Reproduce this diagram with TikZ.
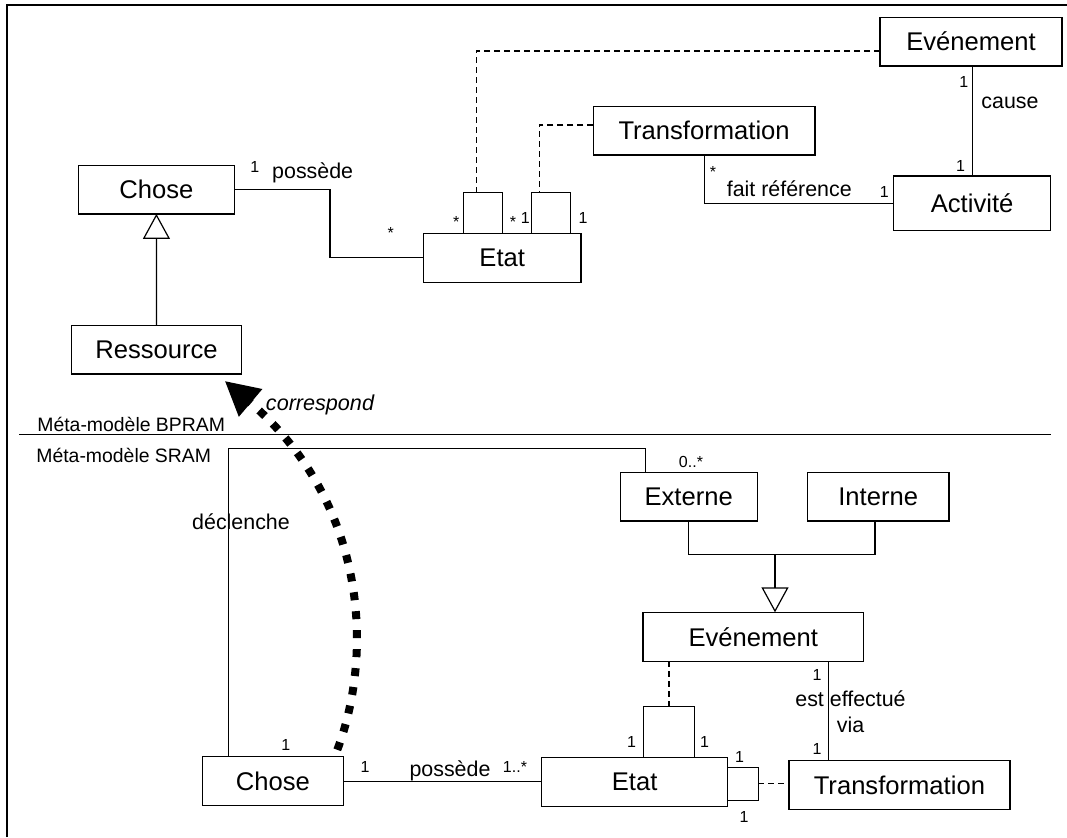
\documentclass[tikz,border=0pt]{standalone}
\usepackage{fontspec}
\setmainfont{Liberation Sans}
\usetikzlibrary{arrows.meta}
\begin{document}
\begin{tikzpicture}[
    x = 0.5pt,
    y = -0.5pt,
    box/.style = {draw, line width=0.6pt, inner sep=0pt, outer sep=0pt,
              minimum height=24.4pt, font=\fontsize{12.8}{14}\selectfont},
    qual/.style = {draw, line width=0.6pt, inner sep=0pt, outer sep=0pt},
    mult/.style = {inner sep=0pt, font=\fontsize{8}{9}\selectfont},
    lbl/.style = {inner sep=0pt, font=\fontsize{10.7}{13.35}\selectfont},
    meta/.style = {inner sep=0pt, anchor=west, font=\fontsize{9.7}{11}\selectfont},
    assoc/.style = {line width=0.6pt},
    dep/.style = {line width=0.6pt, dash pattern=on 3pt off 2pt},
    inherit/.style = {line width=0.6pt, -{Triangle[open, length=12.5pt, width=13.5pt]}},
    corr/.style = {line width=4pt, dash pattern=on 4pt off 5.5pt,
              -{Triangle[length=17pt, width=17pt]}},
    ]
\useasboundingbox (0,0) rectangle (1067,837);

\draw [line width=1pt] (6.5,837) -- (6.5,5) -- (1067,5);

% BPRAM
\node[box, minimum width=91pt] (evtA) at (971,41.5) {Evénement};
\node[box, minimum width=110.8pt] (trA) at (704.1,130.5) {Transformation};
\node[box, minimum width=78.4pt, minimum height=27.3pt] (act) at (972.1,203.3) {Activité};
\node[box, minimum width=78pt] (choseA) at (156.4,189.5) {Chose};
\node[box, minimum width=78.8pt] (etatA) at (502.2,257.8) {Etat};
\node[box, minimum width=85.2pt] (res) at (156.5,349.5) {Ressource};
\node[qual, minimum width=19.7pt, minimum height=20.3pt] (qA1) at (483,213) {};
\node[qual, minimum width=19.5pt, minimum height=20.3pt] (qA2) at (551.1,213) {};

\draw [assoc] (choseA.east) -- ++(95.5,0) |- (etatA.west);
\draw [dep] ([yshift=-4.75pt]evtA.west) -| ([xshift=-3.4pt]qA1.north);
\draw [dep] ([yshift=2.75pt]trA.west) -| ([xshift=-5.7pt]qA2.north);
\draw [assoc] (trA.south) |- (act.west);
\draw [assoc] (act.north) -- (act.north |- evtA.south);
\draw [inherit] (res.north) -- (choseA.south);

\node[mult] (m1) at (254.8,166.7) {1};
\node[lbl] (l1) at (312.7,173.3) {possède};
\node[mult] (m2) at (390.8,233.4) {*};
\node[mult] (m3) at (456.3,221.7) {*};
\node[mult] (m4) at (513,221.7) {*};
\node[mult] (m5) at (525.2,218.3) {1};
\node[mult] (m6) at (583,218.3) {1};
\node[mult] (m7) at (713,171.7) {*};
\node[lbl] (l2) at (789.3,188.3) {fait référence};
\node[mult] (m8) at (884.2,191.7) {1};
\node[mult] (m9) at (963.8,81.7) {1};
\node[lbl] (l3) at (1010,103.3) {cause};
\node[mult] (m10) at (960.5,165.7) {1};

% separation
\draw [line width=0.7pt] (19,434.3) -- (1051,434.3);
\node[meta] (bpram) at (37,424) {Méta-modèle BPRAM};
\node[meta] (sram) at (36,455) {Méta-modèle SRAM};

% SRAM
\node[box, minimum width=68.5pt] (ext) at (688.7,496.5) {Externe};
\node[box, minimum width=70.7pt] (int) at (878.2,496.5) {Interne};
\node[box, minimum width=110.4pt] (evtB) at (753.3,636.7) {Evénement};
\node[box, minimum width=70.5pt] (choseB) at (272.8,781.2) {Chose};
\node[box, minimum width=93.2pt] (etatB) at (634.6,781.7) {Etat};
\node[box, minimum width=110.5pt] (trB) at (899.4,785.2) {Transformation};
\node[qual, minimum width=25.3pt, minimum height=25.3pt] (qB1) at (668.9,732) {};
\node[qual, minimum width=15.2pt, minimum height=16.4pt] (qB2) at (743,783.7) {};
\coordinate (joinB) at (775,554.3);

\draw [assoc] ([xshift=-22pt]choseB.north) -- ++(0,-308.5) -| ([xshift=-21.5pt]ext.north);
\draw [assoc] (ext.south) -- ++(0,33.6) -| ([xshift=-1.6pt]int.south);
\draw [inherit] (joinB) -- ([xshift=10.85pt]evtB.north);
\draw [dep] (qB1.north) -- (qB1.north |- evtB.south);
\draw [assoc] ([xshift=-35.6pt]trB.north) -- ([xshift=-35.6pt]trB.north |- evtB.south);
\draw [dep] (qB2.east) -- (qB2.east -| trB.west);
\draw [assoc] (choseB.east) -- (choseB.east -| etatB.west);
\draw [corr] ([shift={(-6,-7)}]choseB.north east) .. controls (375,650) and (365,500) .. ([shift={(-17,7)}]res.south east);

\node[lbl, font=\fontsize{10.8}{12}\selectfont\itshape] (l4) at (320,405) {correspond};
\node[lbl] (l5) at (241,521.7) {déclenche};
\node[mult] (m11) at (285.7,745) {1};
\node[mult] (m12) at (691,461.7) {0..*};
\node[mult] (m13) at (365,767) {1};
\node[lbl] (l6) at (450,770.5) {possède};
\node[mult] (m14) at (515,767.3) {1..*};
\node[mult] (m15) at (631.6,741.7) {1};
\node[mult] (m16) at (704.6,741.7) {1};
\node[mult] (m17) at (739.5,756.7) {1};
\node[mult] (m18) at (744,816.7) {1};
\node[mult] (m19) at (817,675) {1};
\node[lbl, align=center] (l7) at (850.5,711.7) {est effectué\\via};
\node[mult] (m20) at (817,749.3) {1};

\end{tikzpicture}
\end{document}
